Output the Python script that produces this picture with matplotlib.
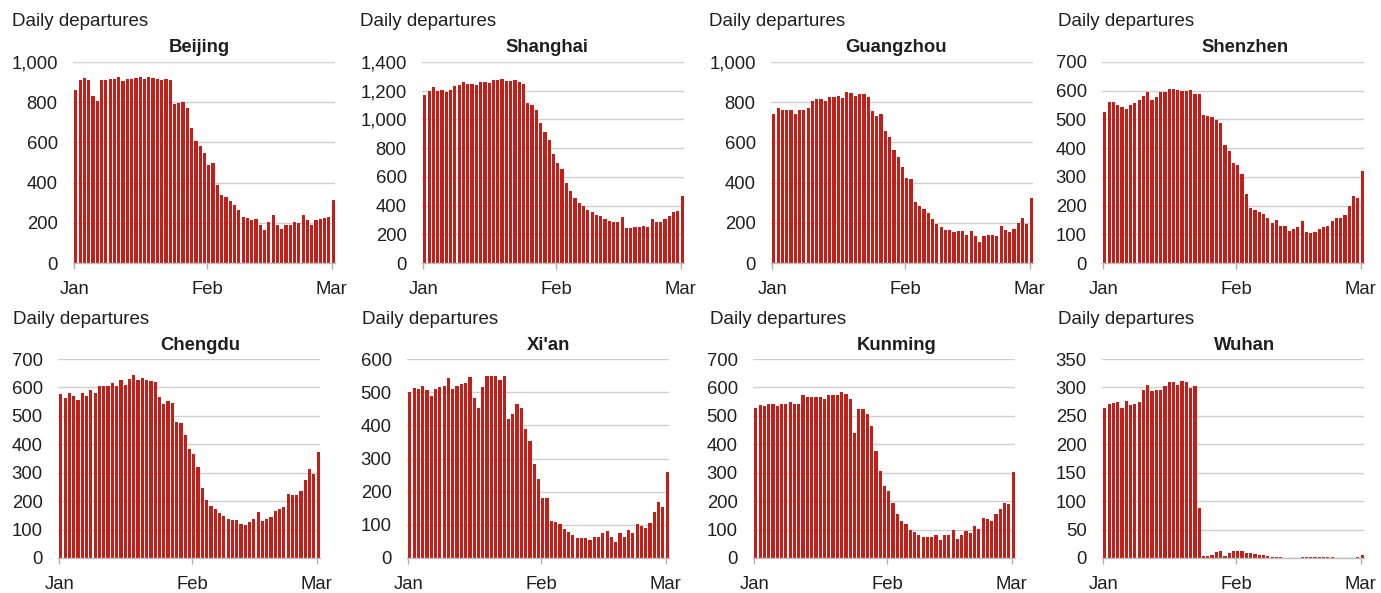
import matplotlib
matplotlib.use("Agg")
import matplotlib.pyplot as plt
import matplotlib.dates as mdates
import matplotlib.ticker as mticker
import numpy as np
import pandas as pd

# ---------------- data ----------------
dates = pd.date_range("2020-01-01", "2020-03-01", freq="D")
tick_dates = pd.to_datetime(["2020-01-01", "2020-02-01", "2020-03-01"])
tick_labels = ["Jan", "Feb", "Mar"]

cities = ["Beijing", "Shanghai", "Guangzhou", "Shenzhen",
          "Chengdu", "Xi'an", "Kunming", "Wuhan"]

beijing = [860, 910, 922, 910, 831, 808, 910, 910, 917, 917, 927, 905, 917, 917, 922, 927,
           917, 927, 922, 917, 910, 917, 910, 790, 796, 801, 771, 670, 609, 580, 549,
           488, 498, 386, 337, 330, 307, 287, 264, 229, 224, 212, 217, 191, 163, 204, 240,
           187, 169, 191, 191, 206, 199, 240, 212, 187, 212, 219, 222, 229,
           315]
shanghai = [1173, 1201, 1224, 1201, 1208, 1194, 1208, 1231, 1243, 1259, 1247, 1247, 1240,
            1259, 1259, 1254, 1277, 1277, 1284, 1270, 1270, 1277, 1261, 1247, 1116, 1100,
            1065, 972, 915, 855, 762,
            695, 658, 559, 504, 450, 418, 395, 370, 353, 337, 326, 305, 293, 284, 284, 319,
            243, 243, 249, 249, 259, 249, 305, 284, 284, 303, 326, 353, 360,
            469]
guangzhou = [741, 771, 761, 761, 761, 740, 760, 760, 773, 806, 816, 816, 806, 824, 826, 831,
             819, 851, 844, 833, 840, 841, 825, 758, 730, 743, 656, 626, 561, 529, 479,
             421, 416, 304, 282, 269, 250, 219, 194, 179, 164, 162, 154, 159, 157, 140, 159,
             134, 104, 134, 139, 139, 132, 184, 165, 154, 170, 200, 225, 195,
             324]
shenzhen = [526, 560, 560, 549, 543, 538, 549, 556, 568, 580, 595, 568, 578, 596, 596, 606,
            606, 603, 600, 600, 603, 590, 590, 517, 511, 507, 497, 488, 412, 391, 348,
            340, 311, 239, 193, 183, 179, 171, 155, 139, 151, 130, 130, 113, 120, 125, 148,
            108, 103, 108, 117, 126, 130, 148, 158, 158, 168, 200, 234, 227,
            319]
chengdu = [576, 564, 580, 571, 556, 580, 571, 590, 580, 606, 606, 606, 614, 606, 627, 610,
           631, 644, 627, 632, 627, 623, 618, 566, 542, 551, 546, 478, 474, 431, 385,
           367, 319, 246, 205, 183, 172, 158, 149, 137, 132, 132, 121, 115, 125, 137, 162,
           129, 136, 144, 166, 172, 179, 226, 223, 223, 234, 273, 312, 295,
           372]
xian = [499, 514, 510, 520, 506, 487, 510, 515, 520, 542, 510, 520, 524, 528, 546, 481,
        452, 517, 550, 550, 550, 538, 550, 418, 433, 463, 452, 389, 353, 284, 237,
        182, 182, 113, 110, 102, 88, 77, 70, 59, 59, 59, 55, 62, 62, 74, 81,
        63, 48, 74, 62, 84, 74, 102, 95, 91, 107, 139, 170, 154,
        259]
kunming = [529, 537, 533, 542, 542, 533, 542, 542, 550, 542, 542, 572, 568, 568, 568, 568,
           561, 572, 572, 572, 585, 576, 559, 440, 525, 525, 508, 465, 375, 306, 253,
           235, 193, 155, 130, 120, 100, 90, 80, 75, 75, 75, 82, 65, 82, 82, 98,
           68, 82, 95, 88, 113, 103, 140, 137, 130, 155, 173, 193, 190,
           303]
wuhan = [264, 270, 273, 275, 264, 277, 269, 270, 274, 296, 304, 294, 296, 296, 302, 309,
         309, 304, 312, 310, 299, 302, 88, 4, 3, 5, 10, 12, 4, 8, 13,
         12, 12, 8, 9, 7, 5, 5, 3, 2, 1, 1, 0.5, 0, 0, 0, 1,
         1, 1, 2, 2, 1, 1, 1, 0, 0, 0, 0, 0, 1,
         5]

series = [beijing, shanghai, guangzhou, shenzhen, chengdu, xian, kunming, wuhan]
y_max = [1000, 1400, 1000, 700, 700, 600, 700, 350]
y_step = [200, 200, 200, 100, 100, 100, 100, 50]

ylabel_text = "Daily departures"

# ---------------- layout (pixels) ----------------
W, H = 1381, 593
AX_W = 262
rows = [dict(top=62, bottom=263, label_y=22, title_y=48),
        dict(top=359, bottom=558, label_y=320, title_y=345)]
panel_origin = [12, 360, 709, 1058, 13, 362, 710, 1058]
axes_left = [73, 422, 771, 1102, 58, 407, 753, 1102]

BAR_COLOR = "#c41e18"
GRID_COLOR = "#cfcfcf"
TEXT_COLOR = "#1f1f1f"
FONT = "Liberation Sans"
FS = 13.3

plt.rcParams["font.family"] = [FONT, "DejaVu Sans"]

fig = plt.figure(figsize=(W / 100, H / 100), dpi=100)
fig.patch.set_facecolor("white")

for i, (name, vals) in enumerate(zip(cities, series)):
    r = rows[i // 4]
    left = axes_left[i]
    ax = fig.add_axes([left / W, 1 - r["bottom"] / H, AX_W / W, (r["bottom"] - r["top"]) / H])
    ax.bar(dates, vals, width=0.75, align="edge", color=BAR_COLOR, linewidth=0, zorder=2)

    ax.set_xlim(dates[0] - pd.Timedelta(hours=7), dates[0] + pd.Timedelta(days=60.8))
    ax.set_ylim(0, y_max[i])
    ax.set_yticks(np.arange(0, y_max[i] + 1, y_step[i]))
    ax.yaxis.set_major_formatter(mticker.FuncFormatter(lambda v, p: f"{int(v):,}"))
    ax.set_xticks(tick_dates)
    ax.set_xticklabels(tick_labels)

    ax.grid(axis="y", color=GRID_COLOR, linewidth=1.0, zorder=0)
    ax.set_axisbelow(True)
    for s in ["top", "right", "left"]:
        ax.spines[s].set_visible(False)
    ax.spines["bottom"].set_color("#bdbdbd")
    ax.spines["bottom"].set_linewidth(1.0)
    ax.spines["bottom"].set_zorder(3)

    ax.tick_params(axis="x", length=4, width=1.0, color="#b0b0b0", pad=9,
                   labelsize=FS, labelcolor=TEXT_COLOR)
    ax.tick_params(axis="y", length=0, pad=11, labelsize=FS, labelcolor=TEXT_COLOR)
    for lab in ax.get_xticklabels() + ax.get_yticklabels():
        lab.set_fontfamily(FONT)

    ox = panel_origin[i]
    fig.text(ox / W, 1 - r["label_y"] / H, ylabel_text, ha="left", va="center",
             fontsize=13.5, color=TEXT_COLOR, family=FONT)
    fig.text((ox + 187) / W, 1 - r["title_y"] / H, name, ha="center", va="center",
             fontsize=FS, fontweight="bold", color=TEXT_COLOR, family=FONT)

fig.savefig("out.png", dpi=100, facecolor="white")
